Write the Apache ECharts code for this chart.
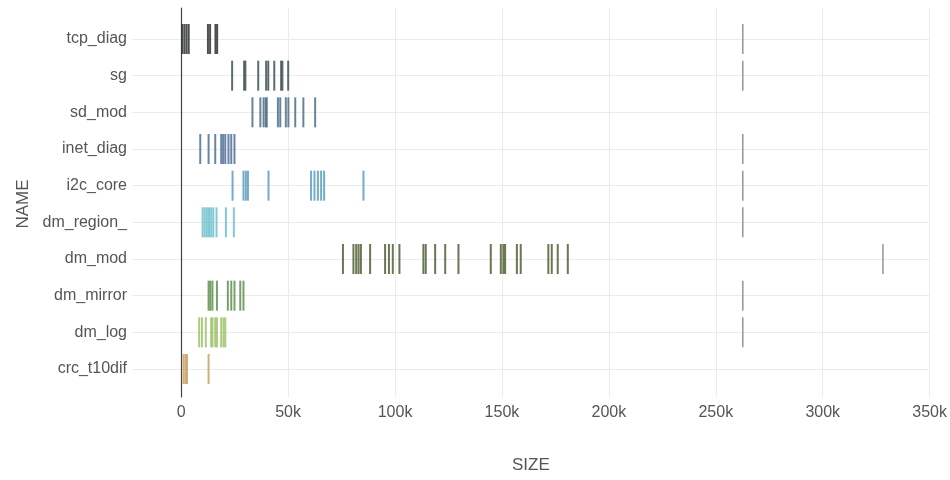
<!DOCTYPE html>
<html>
<head>
<meta charset="utf-8">
<script src="https://cdn.jsdelivr.net/npm/echarts@6/dist/echarts.min.js"></script>
<style>
  html, body { margin: 0; padding: 0; background: #ffffff; }
  #chart { width: 950px; height: 480px; }
</style>
</head>
<body>
<div id="chart"></div>
<script>
// Categories, top to bottom
const categories = ['tcp_diag', 'sg', 'sd_mod', 'inet_diag', 'i2c_core', 'dm_region_', 'dm_mod', 'dm_mirror', 'dm_log', 'crc_t10dif'];

// SIZE values per module (bytes)
const tcp_diag   = [500, 1500, 2500, 3500, 12500, 13500, 16000, 16800];
const sg         = [23800, 29400, 30000, 36000, 39700, 40700, 43500, 46700, 47300, 50000];
const sd_mod     = [33300, 37000, 38500, 39500, 40000, 45200, 46300, 48900, 50100, 53300, 57100, 62600];
const inet_diag  = [8900, 12800, 15900, 18700, 19600, 20600, 22100, 23400, 24900];
const i2c_core   = [24000, 29100, 30200, 31200, 40800, 60700, 62300, 63900, 65400, 66800, 85200];
const dm_region_ = [10000, 11000, 12000, 13000, 14000, 15000, 16500, 20900, 24600];
const dm_mod     = [75600, 80500, 81800, 82900, 84000, 88300, 95300, 97100, 98900, 102000, 113200, 114300, 118700, 123400, 129600, 144700, 149400, 150600, 151400, 156900, 158700, 171600, 173200, 176000, 180700];
const dm_mirror  = [12800, 13600, 14600, 16700, 21800, 23400, 24900, 27600, 29100];
const dm_log     = [8400, 9700, 11500, 14000, 14600, 15900, 16700, 18700, 19800, 20600];
const crc_t10dif = [1100, 2000, 2700, 12800];

// Large outlying sizes (drawn grey)
const outlierNames  = ['tcp_diag', 'sg', 'inet_diag', 'i2c_core', 'dm_region_', 'dm_mod', 'dm_mirror', 'dm_log'];
const outlierValues = [262500, 262500, 262500, 262500, 262500, 328000, 262500, 262500];

// x-axis ticks
const xMin = -23000, xMax = 350000;

const valuesByName = { tcp_diag, sg, sd_mod, inet_diag, i2c_core, dm_region_, dm_mod, dm_mirror, dm_log, crc_t10dif };
const colors = {
  tcp_diag: '#2f3333', sg: '#3f5552', sd_mod: '#4f6f86', inet_diag: '#4d6f99',
  i2c_core: '#5c9cbf', dm_region_: '#6cc0cc', dm_mod: '#4f5f35', dm_mirror: '#5e9250',
  dm_log: '#9ec26a', crc_t10dif: '#c9a064'
};

const series = categories.map(name => ({
  type: 'scatter',
  name: name,
  xAxisIndex: 1,
  yAxisIndex: 1,
  symbol: 'rect',
  symbolSize: [2, 30],
  itemStyle: { color: colors[name], opacity: 0.85 },
  data: valuesByName[name].map(v => [v, name]),
  z: 3
}));
series.push({
  type: 'scatter',
  name: 'outliers',
  xAxisIndex: 1,
  yAxisIndex: 1,
  symbol: 'rect',
  symbolSize: [1.5, 30],
  itemStyle: { color: '#8a8a8a', opacity: 0.9 },
  data: outlierValues.map((v, i) => [v, outlierNames[i]]),
  z: 3
});

const chart = echarts.init(document.getElementById('chart'), null, { renderer: 'canvas' });
const labelColor = '#555555';
const fontFam = 'Liberation Sans, Arial, sans-serif';

chart.setOption({
  animation: false,
  backgroundColor: '#ffffff',
  grid: [
    { left: 132, right: 20, top: 8, bottom: 83 },
    { left: 132, right: 20, top: 39, bottom: 111 }
  ],
  xAxis: [
    {
      gridIndex: 0, type: 'value', min: xMin, max: xMax, splitNumber: 8,
      axisLine: { show: false }, axisTick: { show: false },
      splitLine: { show: true, showMinLine: false, lineStyle: { color: '#ebebeb', width: 1 } },
      axisLabel: {
        showMinLabel: false, color: labelColor, fontSize: 16, fontFamily: fontFam, margin: 8,
        formatter: v => v === 0 ? '0' : (v / 1000) + 'k'
      },
      name: 'SIZE', nameLocation: 'middle', nameGap: 60,
      nameTextStyle: { color: labelColor, fontSize: 17, fontFamily: fontFam }
    },
    { gridIndex: 1, type: 'value', min: xMin, max: xMax, show: false }
  ],
  yAxis: [
    {
      gridIndex: 0, type: 'value', min: 0, max: 1,
      axisLine: { show: true, onZero: true, lineStyle: { color: '#444444', width: 1.2 } },
      axisTick: { show: false }, axisLabel: { show: false }, splitLine: { show: false }
    },
    {
      gridIndex: 1, type: 'category', data: categories, inverse: true, boundaryGap: false,
      axisLine: { show: false, onZero: false }, axisTick: { show: false },
      splitLine: { show: true, lineStyle: { color: '#ebebeb', width: 1 } },
      axisLabel: { color: labelColor, fontSize: 16, fontFamily: fontFam, margin: 5 },
      name: 'NAME', nameLocation: 'middle', nameGap: 100, nameRotate: 90,
      nameTextStyle: { color: labelColor, fontSize: 17, fontFamily: fontFam }
    }
  ],
  series: series
});
</script>
</body>
</html>
